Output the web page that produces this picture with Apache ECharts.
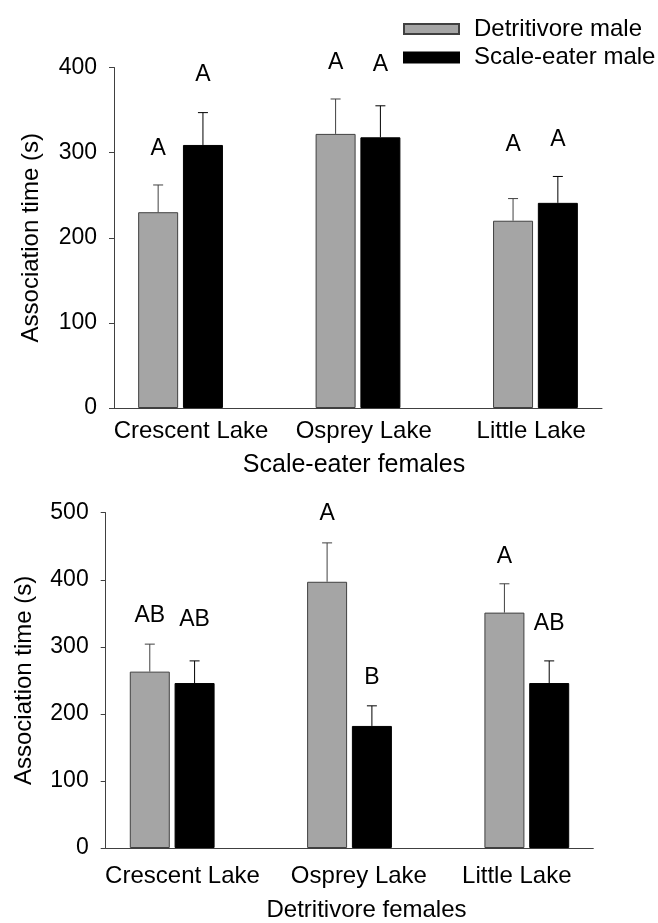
<!DOCTYPE html>
<html><head><meta charset="utf-8">
<script src="https://cdn.jsdelivr.net/npm/echarts@6/dist/echarts.min.js"></script>
<style>html,body{margin:0;padding:0;background:#fff}#c{width:658px;height:923px}</style>
</head><body><div id="c"></div>
<script>
const categories = ['Crescent Lake', 'Osprey Lake', 'Little Lake'];
const seriesNames = ['Detritivore male', 'Scale-eater male'];
// Top panel: scale-eater females
const topDetMean = [230, 322, 220];
const topDetSE = [32, 41, 26];
const topScaleMean = [309, 318, 241];
const topScaleSE = [38, 37, 31];
const topDetLetters = ['A', 'A', 'A'];
const topScaleLetters = ['A', 'A', 'A'];
const topDetLetterY = [305, 406, 309];
const topScaleLetterY = [392, 403, 315];
const topTicks = [0, 100, 200, 300, 400];
// Bottom panel: detritivore females
const botDetMean = [263, 397, 351];
const botDetSE = [41, 58, 43];
const botScaleMean = [246, 182, 246];
const botScaleSE = [33, 30, 33];
const botDetLetters = ['AB', 'A', 'A'];
const botScaleLetters = ['AB', 'B', 'AB'];
const botDetLetterY = [347, 498, 434];
const botScaleLetterY = [340, 254, 335];
const botTicks = [0, 100, 200, 300, 400, 500];

const FONT = 'Liberation Sans, Arial, sans-serif';
const BAR_W = 40, GAP_PX = 4.8;
const OFF = (BAR_W + GAP_PX) / 2;
const GRAY = '#a5a5a5';
// horizontal nudges (px) of category labels, styling only
const topLabelShift = [10.5, 5.7, -4.2];
const botLabelShift = [10.3, 9.4, -10];

function richFor(shifts) {
  const r = {};
  shifts.forEach((s, i) => {
    r['c' + i] = {
      fontSize: 24, fontFamily: FONT, color: '#000',
      padding: s >= 0 ? [0, 0, 0, 2 * s] : [0, -2 * s, 0, 0]
    };
  });
  return r;
}
function xAxisFor(gridIndex, title, gap, margin, shifts, namePad) {
  return {
    type: 'value', gridIndex, min: -0.375, max: 2.375, splitNumber: 3,
    name: title, nameLocation: 'middle', nameGap: gap,
    nameTextStyle: { fontSize: gridIndex === 0 ? 25 : 24, fontFamily: FONT, color: '#000', padding: namePad },
    axisLine: { show: true, onZero: false, lineStyle: { color: '#404040', width: 1 } },
    axisTick: { show: false }, splitLine: { show: false },
    axisLabel: {
      fontSize: 24, fontFamily: FONT, color: '#000', margin,
      showMinLabel: false, showMaxLabel: false,
      formatter: v => {
        const k = Math.round(v);
        return (Math.abs(v - k) < 1e-6 && categories[k]) ? '{c' + k + '|' + categories[k] + '}' : '';
      },
      rich: richFor(shifts)
    }
  };
}
function yAxisFor(gridIndex, ticks, gap) {
  return {
    type: 'value', gridIndex, min: ticks[0], max: ticks[ticks.length - 1], interval: ticks[1] - ticks[0],
    name: 'Association time (s)', nameLocation: 'middle', nameGap: gap,
    nameTextStyle: { fontSize: 24, fontFamily: FONT, color: '#000' },
    axisLine: { show: true, onZero: false, lineStyle: { color: '#404040', width: 1 } },
    axisTick: { show: true, length: 5, lineStyle: { color: '#404040' } },
    splitLine: { show: false },
    axisLabel: { fontSize: 23, fontFamily: FONT, color: '#000', margin: 17 }
  };
}
function barSeries(name, means, gi, color, border) {
  return {
    type: 'bar', name, xAxisIndex: gi, yAxisIndex: gi,
    barWidth: BAR_W, barGap: (GAP_PX / BAR_W * 100) + '%',
    itemStyle: { color, borderColor: border, borderWidth: 1 },
    data: means.map((m, i) => [i, m]), z: 2
  };
}
function errSeries(means, ses, letters, letterY, gi, side, color) {
  return {
    type: 'custom', xAxisIndex: gi, yAxisIndex: gi, clip: false, z: 3,
    data: means.map((m, i) => [i, m, ses[i]]),
    renderItem: (params, api) => {
      const i = api.value(0), m = api.value(1), se = api.value(2);
      const b = api.coord([i, m]), t = api.coord([i, m + se]);
      const x = b[0] + side * OFF;
      const lp = api.coord([i, letterY[params.dataIndex]]);
      return {
        type: 'group', children: [
          { type: 'line', shape: { x1: x, y1: b[1], x2: x, y2: t[1] }, style: { stroke: color, lineWidth: 1 } },
          { type: 'line', shape: { x1: x - 5, y1: t[1], x2: x + 5, y2: t[1] }, style: { stroke: color, lineWidth: 1 } },
          { type: 'text', x: lp[0] + side * OFF, y: lp[1], style: { text: letters[params.dataIndex], fontSize: 23, fontFamily: FONT, fill: '#000', align: 'center', verticalAlign: 'middle' } }
        ]
      };
    }
  };
}

const chart = echarts.init(document.getElementById('c'), null, { renderer: 'canvas' });
chart.setOption({
  animation: false,
  backgroundColor: '#fff',
  legend: {
    data: seriesNames, orient: 'vertical', left: 403, top: 17, padding: 0,
    itemWidth: 55, itemHeight: 10, itemGap: 4.5, icon: 'rect',
    textStyle: { fontSize: 24, fontFamily: FONT, color: '#000', lineHeight: 24, padding: [0, 0, 0, 10] }
  },
  grid: [
    { left: 114, top: 67.5, width: 488, height: 340.5 },
    { left: 105.7, top: 512.7, width: 487.6, height: 340 }
  ],
  xAxis: [
    xAxisFor(0, 'Scale-eater females', 45, 11, topLabelShift, [0, 8, 0, 0]),
    xAxisFor(1, 'Detritivore females', 50, 16, botLabelShift, [0, 0, 0, 34])
  ],
  yAxis: [yAxisFor(0, topTicks, 71), yAxisFor(1, botTicks, 69)],
  series: [
    barSeries(seriesNames[0], topDetMean, 0, GRAY, '#404040'),
    barSeries(seriesNames[1], topScaleMean, 0, '#000', '#000'),
    errSeries(topDetMean, topDetSE, topDetLetters, topDetLetterY, 0, -1, '#404040'),
    errSeries(topScaleMean, topScaleSE, topScaleLetters, topScaleLetterY, 0, 1, '#000'),
    barSeries(seriesNames[0], botDetMean, 1, GRAY, '#404040'),
    barSeries(seriesNames[1], botScaleMean, 1, '#000', '#000'),
    errSeries(botDetMean, botDetSE, botDetLetters, botDetLetterY, 1, -1, '#404040'),
    errSeries(botScaleMean, botScaleSE, botScaleLetters, botScaleLetterY, 1, 1, '#000')
  ]
});
</script></body></html>
